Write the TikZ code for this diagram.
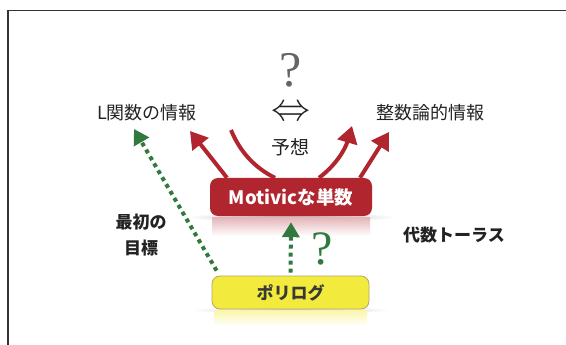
\documentclass[tikz,border=0pt]{standalone}
\usepackage{fontspec}
\setmainfont{Noto Sans CJK JP}
\newfontfamily\serifq{Liberation Serif}
\usetikzlibrary{arrows.meta}
\definecolor{myred}{HTML}{B1262E}
\definecolor{mygreen}{HTML}{2F7A3C}
\definecolor{myyellow}{HTML}{F2EA3C}
\definecolor{ybord}{HTML}{B5A66A}
\definecolor{txt}{HTML}{222222}
\tikzset{
  lbl/.style={text=txt, font=\fontsize{18}{18}\selectfont, inner sep=0pt},
  blbl/.style={text=txt, font=\bfseries\fontsize{17}{26}\selectfont, inner sep=0pt, align=center},
  redbox/.style={fill=myred, rounded corners=8pt, minimum width=162pt, minimum height=38pt,
     text=white, font=\bfseries\fontsize{18.5}{18.5}\selectfont, inner sep=0pt},
  yelbox/.style={fill=myyellow, draw=ybord, line width=0.8pt, rounded corners=8pt, minimum width=157pt,
     minimum height=33pt, text=txt!90, font=\bfseries\fontsize{17}{17}\selectfont, inner sep=0pt},
  redarrow/.style={myred, line width=4pt, -{Triangle[width=20pt,length=17pt]}},
  redline/.style={myred, line width=4pt},
  greenarrow/.style={mygreen, line width=4pt, dash pattern=on 4pt off 4pt,
     -{Triangle[width=17pt,length=15pt]}},
  qmark/.style={font=\serifq\fontsize{50}{50}\selectfont, inner sep=0pt}
}
\begin{document}
\begin{tikzpicture}[x=1pt,y=-1pt]
\useasboundingbox (0,0) rectangle (566,345);
\draw[line width=1.5pt, black!80] (8,345) -- (8,10.7) -- (566,10.7);

% shadows and reflections
\shade[inner color=black!30, outer color=white] (291,217) ellipse (105 and 5);
\shade[top color=myred!35, bottom color=white] (212,217) rectangle (370,236);
\shade[inner color=black!25, outer color=white] (291,310) ellipse (100 and 4);
\shade[top color=myyellow!45, bottom color=white] (214,310) rectangle (367,326);

\node[redbox] (motivic) at (291,197) {Motivicな単数};
\node[yelbox] (poly) at (290.5,292.5) {ポリログ};

\node[lbl] (lfunc) at (147,113) {L関数の情報};
\node[lbl] (seisu) at (430,113) {整数論的情報};
\node[lbl, font=\fontsize{19}{19}\selectfont] (yoso) at (290.5,147) {予想};
\node[text=txt, inner sep=0pt, text height=20pt, text depth=0pt] (iff) at (291,111) {\scalebox{3.9}{$\Leftrightarrow$}};
\node[qmark, text=black!60] (q1) at (291,70) {?};
\node[qmark, text=mygreen, font=\serifq\fontsize{48}{48}\selectfont] (q2) at (322,249) {?};
\node[blbl] (goal) at (141,235) {最初の\\目標};
\node[blbl] (torus) at (454,235) {代数トーラス};

% red arrows
\coordinate (ra) at (190,131);
\coordinate (rb) at (231,130);
\coordinate (rc) at (352,126);
\coordinate (rd) at (389,132);
\draw[redarrow] ([xshift=-64pt]motivic.north) -- (ra);
\draw[redline] ([xshift=-16pt]motivic.north) .. controls (255,168) and (240,152) .. (rb);
\draw[redarrow] ([xshift=28pt]motivic.north) .. controls (335,166) and (345,150) .. (rc);
\draw[redarrow] ([xshift=69pt]motivic.north) -- (rd);

% green arrows
\coordinate (ga) at (134,129);
\draw[greenarrow] ([shift={(5,-5)}]poly.north west) -- (ga);
\draw[greenarrow] ([yshift=3pt]poly.north) -- ([yshift=-6pt]motivic.south);
\end{tikzpicture}
\end{document}
